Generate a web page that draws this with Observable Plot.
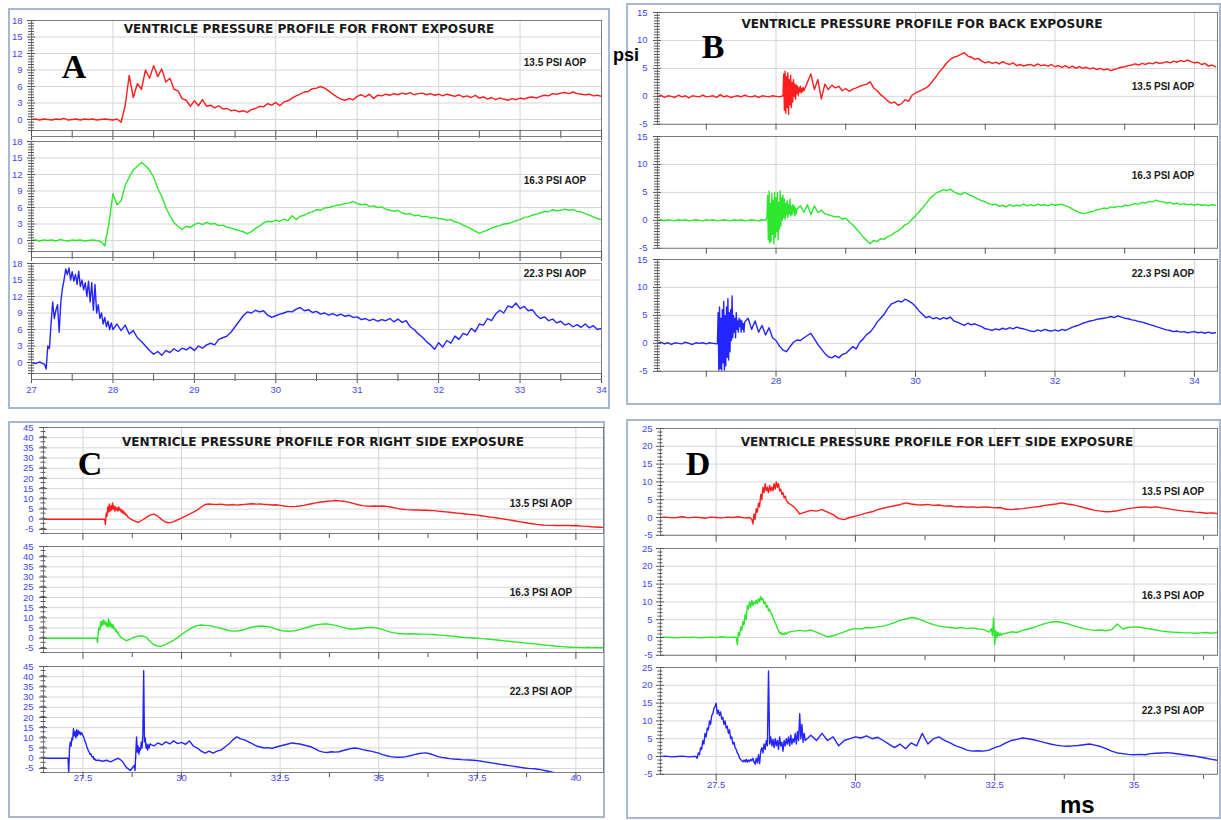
<!DOCTYPE html>
<html>
<head>
<meta charset="utf-8">
<script src="https://cdn.jsdelivr.net/npm/d3@7"></script>
<script src="https://cdn.jsdelivr.net/npm/@observablehq/plot@0.6"></script>
<style>
  body { margin: 0; background: #fff; }
  #page { position: relative; width: 1221px; height: 820px; overflow: hidden; background: #fff; }
  .box { position: absolute; border: 2px solid #a9b8d2; box-sizing: border-box; background: #fff; }
  .sub { position: absolute; }
  #overlay { position: absolute; left: 0; top: 0; pointer-events: none; }
</style>
</head>
<body>
<div id="page"></div>
<script>
// ---------------------------------------------------------------------------
// Text
// ---------------------------------------------------------------------------
const titles = [
  "VENTRICLE PRESSURE PROFILE FOR FRONT EXPOSURE",
  "VENTRICLE PRESSURE PROFILE FOR BACK EXPOSURE",
  "VENTRICLE PRESSURE PROFILE FOR RIGHT SIDE EXPOSURE",
  "VENTRICLE PRESSURE PROFILE FOR LEFT SIDE EXPOSURE"
];
const letters = ["A", "B", "C", "D"];
const aopLabels = ["13.5 PSI AOP", "16.3 PSI AOP", "22.3 PSI AOP"];
const unitY = "psi";
const unitX = "ms";

// ---------------------------------------------------------------------------
// Tick values
// ---------------------------------------------------------------------------
const frontTicksY = [0, 3, 6, 9, 12, 15, 18];
const frontTicksX = [27, 28, 29, 30, 31, 32, 33, 34];
const backTicksY = [-5, 0, 5, 10, 15];
const backTicksX = [28, 30, 32, 34];
const backTicksXAll = [27, 28, 29, 30, 31, 32, 33, 34];
const rightTicksY = [-5, 0, 5, 10, 15, 20, 25, 30, 35, 40, 45];
const rightTicksX = [27.5, 30, 32.5, 35, 37.5, 40];
const leftTicksY = [-5, 0, 5, 10, 15, 20, 25];
const leftTicksX = [27.5, 30, 32.5, 35];

// ---------------------------------------------------------------------------
// Pressure traces (psi). Each trace is a list of [start ms, step ms, samples].
// ---------------------------------------------------------------------------
const frontRed = [
  [27.00, 0.05, [0, 0.1, -0.1, 0.1, 0, -0.1, 0.1, 0, 0.2, -0.1, 0, 0.1, -0.1, 0.1, 0, 0.1, -0.1, 0, 0.1, 0, -0.1, 0.1,
    -0.5, 2.5, 8, 4, 6.5, 5.5, 9, 7.5, 9.8, 7.8, 9.2, 6.8, 7.5, 5.5, 5.2, 3.8, 3.5, 2.4,
    3.4, 2.5, 3.6, 2.4, 2.6, 2.1, 2.5, 1.9, 2.0, 1.6, 1.7, 1.4, 1.6, 1.3, 1.8, 2.0, 2.4, 2.3, 2.9, 2.6,
    3.1, 2.5, 3.2, 3.4, 3.9, 4.3, 4.6, 5.0, 5.1, 5.6, 5.7, 6.0, 5.7, 5.2, 4.6, 4.1, 3.7, 3.5, 3.8, 3.6,
    4.2, 4.5, 4.1, 4.6, 3.8, 4.4, 4.3, 4.6, 4.4, 4.7, 4.5, 4.8, 4.6, 4.9, 4.5, 4.7, 4.8, 4.5, 4.7, 4.4,
    4.6, 4.3, 4.6, 4.4, 4.2, 4.5, 4.1, 4.3, 4.0, 4.4, 3.9, 4.1, 3.7, 4.0, 3.6, 3.9, 3.7, 3.5, 3.8, 3.6,
    3.9, 3.7, 4.0, 4.1, 3.9, 4.2, 4.4, 4.3, 4.7, 4.6, 4.8, 4.9, 4.7, 5.0, 4.7, 4.6, 4.5, 4.6, 4.3, 4.4, 4.2]]
];
const frontGreen = [
  [27.00, 0.05, [0, 0.1, -0.1, 0.1, 0, 0.1, -0.1, 0.2, 0, -0.1, 0.1, 0, 0.1, -0.1, 0, 0.1, 0,
    -0.2, -1.0, 3.0, 8.5, 6.5, 7.2, 10.0, 11.5, 12.8, 13.5, 14.2, 13.6, 12.8, 11.5, 9.5, 8.0, 6.0, 4.5, 3.2, 2.6, 2.0, 2.6, 2.4,
    2.9, 3.2, 2.9, 3.3, 3.0, 3.1, 2.7, 2.8, 2.4, 2.3, 2.0, 1.8, 1.6, 1.2, 1.6, 2.2, 2.6, 3.2, 3.5, 3.4,
    3.7, 3.5, 3.9, 3.6, 4.5, 3.8, 4.4, 4.6, 5.0, 5.2, 5.6, 5.5, 5.9, 6.0, 6.2, 6.4, 6.5, 6.7, 6.8, 7.1,
    6.7, 6.5, 6.6, 6.2, 6.3, 6.0, 6.1, 5.7, 5.5, 5.3, 5.5, 5.0, 4.8, 4.9, 4.5, 4.6, 4.3, 4.4, 4.1, 4.2,
    4.0, 3.9, 3.7, 3.8, 3.4, 3.2, 2.8, 2.5, 2.1, 1.7, 1.3, 1.6, 1.9, 2.3, 2.5, 2.7, 3.0, 3.1, 3.3, 3.6,
    3.8, 4.2, 4.3, 4.6, 4.8, 5.0, 5.3, 5.2, 5.6, 5.4, 5.5, 5.7, 5.5, 5.6, 5.3, 5.2, 4.9, 4.6, 4.3, 4.0, 3.8]]
];
const frontBlue = [
  [27.00, 0.05, [0, -0.2, 0.1, -0.3]],
  [27.16, 0.02, [-0.3, -1.2, 3.0, 2.5, 7.0, 11.0, 8.0, 9.5, 10.5, 5.5, 11.0, 13.5, 15.0, 17.0, 16.0, 17.2, 15.0, 16.5,
    14.8, 16.0, 14.2, 16.6, 13.8, 15.0, 13.2, 14.5, 12.0, 14.8, 11.0, 14.5, 9.5, 14.2, 9.0, 10.5, 8.0, 9.0, 7.0, 8.2,
    6.5, 7.5, 6.0, 7.2]],
  [28.00, 0.05, [6.0, 7.0, 5.8, 6.8, 5.2, 5.8, 4.5, 3.8, 3.0, 2.2, 1.5, 2.0, 1.3, 2.2, 1.8, 2.5, 2.0, 2.6, 2.3, 2.8,
    2.2, 3.0, 2.6, 3.2, 3.5, 3.2, 4.2, 4.5, 4.8, 5.5, 6.5, 7.5, 8.5, 9.2, 9.0, 9.5, 9.2, 9.4, 8.6, 8.2,
    8.5, 8.8, 9.0, 9.3, 9.2, 9.7, 10.0, 9.4, 9.6, 9.1, 9.3, 8.8, 9.0, 8.6, 8.9, 8.5, 8.8, 8.4, 8.6, 8.2,
    8.3, 7.8, 8.0, 7.6, 7.9, 7.5, 7.8, 7.6, 8.0, 7.4, 7.9, 7.3, 7.6, 6.5, 6.0, 5.2, 4.6, 3.8, 3.2, 2.4,
    3.6, 2.8, 4.0, 3.5, 4.8, 4.2, 5.3, 5.0, 6.2, 5.6, 7.0, 6.8, 8.0, 7.6, 8.8, 9.5, 9.0, 10.3, 10.0, 10.8,
    9.8, 10.2, 9.4, 9.6, 8.6, 8.0, 8.3, 7.6, 7.9, 7.2, 7.5, 6.8, 7.1, 6.5, 6.9, 6.4, 7.0, 6.3, 6.7, 6.0,
    6.2]]
];

const backRed = [
  [26.30, 0.05, [-0.1, 0.2, -0.2, 0.1, 0, -0.2, 0.2, -0.1, 0.1, -0.3, 0.1, 0, -0.1, 0.2, -0.1, 0, 0.1, -0.2, 0.3,
    -0.1, 0.1, -0.2, 0, 0.1, -0.1, 0.2, 0, -0.1, 0.1, -0.2, 0.1, 0, -0.1, 0.1, 0, -0.1, 0.1]],
  [28.11, 0.01, [4.0, -2.5, 4.5, -3.0, 3.5, -2.0, 4.2, -3.2, 3.0, -1.5, 3.8, -2.0, 2.5, -1.0, 3.0, 0, 2.2, -0.5,
    2.0, 0.5, 1.8, 0.2, 1.5, 0.8, 1.8, 0.6, 1.4, 0.9, 1.6, 1.0]],
  [28.45, 0.05, [2.5, 4.0, 1.2, 3.0, -0.5, 2.2, 1.2, 2.0, 1.5, 1.8, 1.0,
    1.4, 0.9, 1.3, 1.5, 1.8, 2.0, 2.2, 2.6, 1.5, 1.0, 0.3, -0.2, -0.8, -1.2, -1.0, -1.6, -1.3, -0.6, -0.9, 0.2,
    0.6, 0.9, 1.2, 1.5, 2.0, 2.8, 3.6, 4.5, 5.2, 6.0, 6.6, 7.0, 7.2, 7.5, 7.8, 7.2, 7.0, 6.6, 6.8, 6.3,
    6.0, 6.2, 5.9, 6.1, 5.8, 6.2, 5.9, 5.7, 6.0, 5.5, 5.7, 5.4, 5.6, 5.7, 5.4, 5.8, 5.5, 5.6, 5.4, 5.7,
    5.3, 5.5, 5.2, 5.5, 5.1, 5.4, 5.0, 5.3, 5.0, 5.2, 4.9, 5.1, 4.8, 5.0, 4.7, 4.9, 4.6, 4.8, 5.0, 5.2,
    5.3, 5.5, 5.6, 5.8, 5.6, 5.9, 5.7, 6.0, 5.8, 6.1, 5.9, 6.0, 6.2, 6.0, 6.3, 6.1, 6.4, 6.2, 6.5, 6.2,
    6.0, 6.1, 5.7, 5.9, 5.4, 5.6, 5.3]]
];
const backGreen = [
  [26.30, 0.05, [0, 0.1, -0.1, 0.1, 0, -0.1, 0.1, 0, 0.1, -0.1, 0, 0.1, 0, -0.1, 0.1, 0, 0.1, -0.1, 0, 0.1, 0,
    -0.1, 0.1, 0, 0.1, -0.1, 0, 0.1, 0, -0.1, 0.1, 0]],
  [27.87, 0.01, [0.5, 4.5, -3.5, 5.2, -4.0, 3.0, -3.8, 4.8, -2.5, 3.5, -4.2, 5.0, -3.0, 4.0, -2.0, 5.0, -3.5, 3.2,
    -1.5, 5.3, -1.0, 4.0, 0, 4.5, 0.5, 3.8, 0.2, 3.0, 1.0, 3.5, 0.5, 2.8, 1.2, 3.8, 0.8, 2.5, 1.0, 2.8, 1.5, 2.6,
    0.8, 2.2, 1.2, 2.0]],
  [28.35, 0.05, [2.6, 1.4, 2.8, 1.0, 2.6, 1.4, 1.8, 1.2, 1.0, 0.8, 0.6, 0.7, 0.2,
    0.4, -0.3, -0.8, -1.5, -2.2, -3.0, -3.6, -4.2, -3.6, -3.8, -3.3, -3.4, -2.9, -2.7, -2.2, -1.9, -1.4, -0.8, -0.5, 0.2,
    0.8, 1.5, 2.2, 3.0, 3.8, 4.4, 4.9, 5.2, 5.5, 5.3, 5.6, 5.1, 4.8, 4.6, 5.0, 4.7, 4.4, 4.1, 3.8, 3.5,
    3.3, 3.0, 2.8, 2.9, 2.5, 2.7, 2.4, 2.8, 2.5, 2.7, 2.6, 2.9, 2.6, 2.8, 2.6, 2.9, 2.7, 2.8, 2.6, 2.9,
    2.7, 2.8, 2.9, 2.6, 2.4, 2.0, 1.7, 1.4, 1.2, 1.3, 1.5, 1.6, 1.9, 2.0, 2.2, 2.1, 2.4, 2.3, 2.5, 2.4,
    2.7, 2.6, 2.8, 3.0, 2.9, 3.2, 3.1, 3.4, 3.3, 3.6, 3.4, 3.3, 3.1, 3.2, 2.9, 3.1, 2.8, 3.0, 2.8, 2.9,
    2.7, 2.9, 2.7, 2.8, 2.6, 2.8, 2.7]]
];
const backBlue = [
  [26.30, 0.05, [0, 0.2, -0.1, 0.1, -0.2, 0.1, 0, -0.1, 0.2, 0, -0.2, 0.1, 0, 0.1, -0.1, 0.1, 0, -0.1]],
  [27.16, 0.01, [0, 5.5, -5, 6.5, -4.5, 4.5, -5, 6.0, -3.5, 7.5, -5, 5.0, -4.0, 6.5, -2.5, 8.0, -3.0, 5.5, -1.5, 6.0,
    0.5, 8.5, 1.0, 5.0, 2.0, 4.5, 1.0, 5.5, 2.5, 4.0, 2.0, 4.5, 3.0, 4.2, 2.0, 4.0, 2.5, 3.5, 2.0, 3.8]],
  [27.60, 0.05, [4.5, 2.5, 4.0, 2.0, 3.2, 1.5, 2.8, 1.0,
    0.5, -0.5, -1.2, -1.5, -0.6, 0.2, 0.6, 0.5, 1.0, 1.4, 1.8, 0.8, -0.2, -1.0, -1.8, -2.4, -2.6, -2.2, -2.6, -2.0,
    -1.8, -1.2, -0.6, -1.0, 0.2, 0.8, 1.6, 2.0, 2.8, 3.8, 4.5, 5.2, 6.2, 7.0, 7.3, 7.6, 7.4, 7.9, 7.6, 7.2,
    6.6, 5.8, 5.2, 4.6, 4.8, 4.4, 4.6, 4.3, 4.6, 4.4, 4.7, 4.0, 3.8, 3.5, 3.2, 3.6, 3.3, 3.5, 3.2, 3.0,
    2.6, 2.5, 2.3, 2.6, 2.4, 2.7, 2.5, 2.8, 2.6, 2.9, 2.7, 2.6, 2.4, 2.2, 2.1, 2.4, 2.2, 2.5, 2.3, 2.2,
    2.4, 2.2, 2.5, 2.3, 2.6, 2.9, 3.1, 3.3, 3.6, 3.8, 4.0, 4.1, 4.3, 4.4, 4.5, 4.6, 4.8, 4.6, 4.9, 4.7,
    4.5, 4.4, 4.2, 4.1, 3.9, 3.8, 3.6, 3.4, 3.2, 3.0, 2.8, 2.6, 2.4, 2.3, 2.1, 2.2, 2.0, 2.1, 1.9, 2.0,
    2.1, 1.9, 2.0, 1.8, 2.0, 1.8, 1.9]]
];

const rightRed = [
  [26.5, 0.1, [0, 0, 0, 0, 0, 0, 0, 0, 0, 0, 0, 0, 0, 0, 0, 0]],
  [28.05, 0.02, [0, -2.5, 3.0, 1.5, 6.0, 3.5, 7.5, 4.0, 6.5, 4.5, 8.0, 5.0, 6.5, 4.0, 6.0, 4.5, 5.5, 4.0, 6.0, 4.5,
    5.0, 3.5, 4.5, 3.0, 4.0, 2.5, 3.0, 2.0, 2.2, 1.2, 1.0]],
  [28.7, 0.1, [0.2, -0.8, -1.5,
    -0.5, 0.8, 2.0, 2.5, 1.5, -0.2, -1.5, -1.8, -1.2, -0.3,
    0.5, 1.5, 2.5, 3.5, 4.5, 6.0, 7.2, 7.5, 7.3, 7.2,
    7.4, 7.1, 7.0, 7.2, 6.9, 7.1, 7.3, 7.5, 7.6, 7.4,
    7.5, 7.3, 7.2, 7.0, 7.1, 6.8, 6.5, 6.3, 6.2, 6.3,
    6.5, 6.8, 7.2, 7.6, 8.0, 8.3, 8.6, 8.8, 9.0, 9.2,
    9.0, 8.8, 8.5, 8.0, 7.5, 7.0, 6.7, 6.5, 6.4, 6.5,
    6.4, 6.5, 6.3, 6.0, 5.6, 5.2, 4.9, 4.7, 4.6, 4.5,
    4.5, 4.4, 4.4, 4.3, 4.2, 4.0, 3.8, 3.6, 3.4, 3.2,
    3.0, 2.8, 2.6, 2.4, 2.2, 2.0, 1.7, 1.4, 1.1, 0.9,
    0.6, 0.3, 0, -0.3, -0.6, -1.0, -1.3, -1.6, -2.0, -2.2,
    -2.5, -2.7, -2.9, -3.0, -3.0, -3.1, -3.0, -3.1, -3.0, -3.2,
    -3.1, -3.3, -3.4, -3.5, -3.7, -3.8, -3.9, -4.0]]
];
const rightGreen = [
  [26.5, 0.1, [0, 0, 0, 0, 0, 0, 0, 0, 0, 0, 0, 0, 0, 0]],
  [27.85, 0.02, [0, -2.0, 3.0, 5.5, 4.0, 8.0, 6.0, 8.5, 6.5, 9.0, 7.0, 8.0, 6.0, 7.5, 5.5, 9.5, 6.0, 8.0, 5.5, 7.0,
    5.0, 6.5, 4.5, 5.0, 3.5, 4.0, 2.5, 3.0, 1.5, 1.5, 0.5]],
  [28.5, 0.1, [0, -1.2, -0.5, 0.5, 1.0,
    1.2, 0.5, -1.5, -3.2, -4.0, -3.8, -3.0, -2.0, -1.0, 0.3,
    1.8, 3.2, 4.5, 5.5, 6.2, 6.5, 6.3, 6.2, 5.8, 5.3,
    4.8, 4.3, 3.8, 3.5, 3.5, 3.8, 4.3, 5.0, 5.5, 5.8,
    6.0, 5.9, 5.7, 5.2, 4.5, 3.9, 3.5, 3.4, 3.5, 3.8,
    4.2, 4.8, 5.4, 6.0, 6.5, 6.8, 7.0, 7.0, 6.7, 6.3,
    5.8, 5.3, 4.8, 4.5, 4.5, 4.8, 5.0, 5.2, 5.3, 5.2,
    4.8, 4.2, 3.6, 3.0, 2.6, 2.3, 2.2, 2.1, 2.2, 2.1,
    2.1, 2.0, 2.0, 1.9, 1.8, 1.6, 1.5, 1.3, 1.1, 0.9,
    0.7, 0.5, 0.4, 0.2, 0.1, 0, -0.2, -0.3, -0.5, -0.7,
    -0.9, -1.1, -1.3, -1.5, -1.7, -1.9, -2.1, -2.3, -2.5, -2.7,
    -2.9, -3.1, -3.3, -3.5, -3.7, -3.9, -4.0, -4.2, -4.3, -4.4,
    -4.5, -4.5, -4.6, -4.4, -4.6, -4.5, -4.7, -4.5]]
];
const rightBlue = [
  [26.5, 0.1, [0, 0, 0, 0, 0, 0, 0]],
  [27.12, 0.02, [0, -7, 5, 8, 6, 10, 9, 14.5, 11, 13, 10, 14, 11, 13.5, 12, 13, 11.5, 12.5, 12, 11, 10.5, 9, 8, 7,
    5.5, 4.5, 3.5, 3, 2, 2.2, 1, 0.5, 0.8, -0.5, -0.2, -1.0]],
  [27.9, 0.1, [-1.0, -1.5, -1.0, -1.8, -0.8, 0, -1.5, -4.5, -6.0, -3.5]],
  [28.82, 0.02, [-6, 2, 10.5, 3, 6, 2, 5, 4, 8, 5, 12, 43, 8, 10, 5, 7, 4, 6.5, 5, 7]],
  [29.3, 0.1, [6.0, 7.5, 6.5, 8.0, 7.0, 8.5, 7.2,
    7.8, 6.8, 8.5, 6.0, 5.0, 3.5, 2.5, 3.5, 2.5, 3.5,
    4.0, 5.5, 7.0, 9.0, 10.5, 9.5, 9.0, 8.0, 7.0, 6.0,
    5.5, 5.0, 5.2, 4.8, 5.5, 6.0, 6.5, 7.0, 7.5, 7.2,
    7.0, 6.5, 6.0, 5.5, 4.5, 3.5, 3.0, 2.8, 3.2, 3.0,
    3.2, 3.8, 4.3, 4.8, 5.0, 4.7, 4.2, 3.8, 3.5, 3.0,
    2.5, 1.8, 1.2, 0.8, 0.6, 0.5, 0.6, 0.8, 1.2, 1.8,
    2.2, 2.5, 2.6, 2.2, 1.5, 0.8, 0.4, 0.1, -0.2, -0.4,
    -0.5, -0.7, -0.8, -0.9, -1.0, -1.2, -1.5, -1.8, -2.1, -2.4,
    -2.7, -3.0, -3.3, -3.6, -3.9, -4.2, -4.5, -4.8, -5.0, -5.1,
    -5.3, -5.6, -6.0, -6.4, -6.8, -7.2, -7.6]]
];

const leftRed = [
  [26.5, 0.1, [0, 0.1, -0.1, 0, 0.2, -0.1, 0.1, 0, -0.2, 0.1, 0, -0.1, 0.1, 0, 0.2, -0.1, 0]],
  [28.14, 0.02, [-0.5, -1.8, 1.0, -0.5, 2.5, 1.5, 4.0, 3.0, 6.5, 5.0, 8.5, 7.0, 9.5, 7.5, 8.5, 7.0, 9.0, 7.5, 8.5,
    7.5, 9.5, 8.0, 10.0, 8.5, 9.5, 7.5, 8.0, 6.5, 7.0, 5.5, 6.0, 4.8]],
  [28.8, 0.1, [4.0, 3.0,
    1.0, 1.5, 2.0, 1.8, 2.2, 1.5, 0.8, -0.3, -0.6, 0,
    0.4, 0.8, 1.3, 1.6, 2.2, 2.6, 3.0, 3.3, 3.6, 4.1,
    3.8, 3.6, 3.5, 3.7, 3.4, 3.5, 3.2, 3.3, 3.0, 3.1,
    2.9, 3.0, 2.8, 3.0, 2.9, 2.7, 2.8, 2.3, 2.2, 2.4,
    2.5, 2.7, 2.9, 3.1, 3.4, 3.6, 3.8, 4.1, 3.8, 3.6,
    3.2, 2.8, 2.4, 2.0, 1.8, 1.6, 1.7, 1.9, 2.2, 2.5,
    2.7, 2.9, 3.0, 2.8, 3.0, 2.7, 2.5, 2.2, 2.0, 1.8,
    1.7, 1.5, 1.4, 1.2, 1.3, 1.1]]
];
const leftGreen = [
  [26.5, 0.1, [0, 0.1, 0, -0.1, 0.1, 0, 0.1, -0.1, 0, 0.1, 0, 0.2, 0, 0.1]],
  [27.86, 0.02, [0, -2.0, 1.5, 0.5, 3.0, 2.0, 4.5, 3.5, 6.5, 5.0, 9.0, 8.0, 10.0, 8.5, 10.5, 9.0, 10.0, 9.5, 10.5,
    9.5, 11.0, 10.0, 11.5, 10.5, 11.0, 9.5, 10.0, 8.5, 9.0, 7.5, 8.0, 7.0, 6.5, 5.5, 5.0, 4.0, 3.5, 2.5, 2.0, 1.2,
    1.5, 0.8, 1.2, 0.8, 1.4, 1.0]],
  [28.8, 0.1, [1.5, 1.8,
    2.0, 1.8, 2.1, 1.5, 0.8, 0.2, 0.5, 1.0, 1.6, 2.2,
    2.5, 2.4, 2.8, 2.7, 3.0, 3.2, 3.6, 4.2, 4.8, 5.2,
    5.6, 5.4, 4.8, 4.2, 3.6, 3.2, 3.0, 2.8, 2.6, 2.8,
    2.5, 2.7, 2.4, 2.2, 1.5]],
  [32.44, 0.02, [2.5, 0.5, 5.5, -2.0, 2.0, 0, 1.5, 0.5, 1.2, 0.6, 1.0]],
  [32.7, 0.1, [1.2, 1.6, 1.4,
    2.0, 2.4, 2.8, 3.4, 3.9, 4.3, 4.5, 4.2, 3.9, 3.4,
    2.9, 2.5, 2.2, 2.0, 2.1, 1.9, 2.2, 3.8, 2.4, 2.8,
    3.0, 2.9, 2.6, 2.4, 2.1, 1.8, 1.6, 1.5, 1.4, 1.3,
    1.3, 1.2, 1.3, 1.4, 1.2, 1.5]]
];
const leftBlue = [
  [26.5, 0.1, [0, 0.1, -0.1, 0, 0.1, -0.1, 0]],
  [27.14, 0.02, [0, -0.5, 1.0, 0.5, 2.5, 2.0, 4.5, 3.5, 6.5, 5.5, 8.0, 7.5, 10.0, 9.0, 11.5, 12.0, 13.5, 14.0, 15.0,
    12.0, 13.0, 11.5, 12.5, 10.5, 11.0, 9.0, 10.0, 8.0, 8.5, 6.5, 7.5, 5.0, 5.5, 3.5, 4.0, 2.5, 2.0, 1.0, 0.5,
    -0.5, -0.8, -1.2, -1.5]],
  [28.00, 0.02, [-1.0, -1.5, -0.8, -1.6, -1.0, -1.4, -0.8, -1.2, -0.5, -1.5, -2.2, -0.5, -1.8, 0.5, -2.0, 1.5, 2.5,
    1.0, 3.5, 2.0, 4.5, 3.0, 24.0, 3.5, 5.5, 3.0, 4.8, 2.5, 5.0, 3.0, 4.5, 2.0, 5.5, 3.0, 4.0, 1.5, 4.5, 3.0, 5.0,
    3.5, 5.5, 3.0, 6.0, 3.5, 5.0, 4.0, 6.5, 3.5, 7.0, 4.5, 12.0, 5.0, 9.0, 4.0, 6.5, 4.5]],
  [29.2, 0.1, [6.0, 4.5, 6.5, 4.5, 5.5, 3.0, 4.5, 5.0,
    5.5, 5.2, 5.8, 5.0, 5.4, 4.5, 3.5, 2.5, 3.5, 2.2,
    3.8, 3.0, 6.5, 3.5, 5.0, 5.5, 4.5, 3.8, 3.0, 2.5,
    1.8, 1.5, 1.6, 1.5, 1.8, 2.5, 3.0, 3.8, 4.5, 4.8,
    5.2, 5.0, 4.7, 4.3, 3.9, 3.5, 3.2, 3.0, 2.9, 3.0,
    3.1, 3.3, 3.5, 3.2, 2.8, 2.2, 1.5, 1.0, 0.8, 0.6,
    0.5, 0.6, 0.5, 0.8, 0.9, 1.0, 1.1, 0.9, 0.7, 0.5,
    0.3, 0.1, -0.2, -0.5, -0.8, -1.1]]
];

// ---------------------------------------------------------------------------
// Panel layout (page pixels) and scales
// ---------------------------------------------------------------------------
const panels = [
  {
    box: [8, 8, 602, 401], frameX: [31, 601], tops: [20, 141, 263], frameH: 110,
    xDomain: [27, 34], yDomain: [-2, 18], yTicks: frontTicksY, yMinorStep: 0.5,
    xMajor: frontTicksX, xMinor: d3.range(27.5, 34, 1), xLabels: frontTicksX, xGrid: frontTicksX,
    axisGap: 6, tickLen: 10, minorLen: 6, xLabelPad: 13, yLabelPad: 9,
    traces: [frontRed, frontGreen, frontBlue],
    title: [309, 33], letter: [74, 78], aop: [555, [62, 180, 273]]
  },
  {
    box: [626, 3, 595, 402], frameX: [657, 1218], tops: [12, 136, 259], frameH: 112,
    xDomain: [26.3, 34.33], yDomain: [-5, 15], yTicks: backTicksY, yMinorStep: 0.5,
    xMajor: backTicksXAll, xMinor: [], xLabels: backTicksX, xGrid: backTicksX,
    axisGap: 0, tickLen: 6, minorLen: 6, xLabelPad: 6, yLabelPad: 10,
    traces: [backRed, backGreen, backBlue],
    title: [922, 28], letter: [713, 58], aop: [1163, [86, 175, 273]]
  },
  {
    box: [8, 421, 597, 397], frameX: [43, 603], tops: [427, 546, 666], frameH: 106,
    xDomain: [26.5, 40.7], yDomain: [-7, 45], yTicks: rightTicksY, yMinorStep: 2.5,
    xMajor: rightTicksX, xMinor: [28.75, 31.25, 33.75, 36.25, 38.75], xLabels: rightTicksX, xGrid: rightTicksX,
    axisGap: 0, tickLen: 7, minorLen: 5, xLabelPad: 2, yLabelPad: 10,
    traces: [rightRed, rightGreen, rightBlue],
    title: [323, 446], letter: [90, 475], aop: [541, [503, 592, 691]]
  },
  {
    box: [626, 419, 595, 400], frameX: [660, 1218], tops: [428, 548, 667], frameH: 107,
    xDomain: [26.5, 36.5], yDomain: [-5, 25], yTicks: leftTicksY, yMinorStep: 1,
    xMajor: leftTicksX, xMinor: [28.75, 31.25, 33.75, 36.25], xLabels: leftTicksX, xGrid: leftTicksX,
    axisGap: 0, tickLen: 7, minorLen: 5, xLabelPad: 7, yLabelPad: 8,
    traces: [leftRed, leftGreen, leftBlue],
    title: [937, 446], letter: [698, 475], aop: [1173, [491, 595, 710]]
  }
];

const traceColors = ["#ff1c1c", "#2fe62f", "#2424ff"];
const gridColor = "#d6d6d6";
const frameColor = "#7d7d7d";
const tickColor = "#555";
const labelColor = "#4646f2";
const plainNumber = (d) => String(d);

// Flatten [start, step, samples] segments into {t, p} rows.
function expand(segments) {
  const rows = [];
  for (const [t0, dt, vals] of segments) {
    vals.forEach((p, i) => rows.push({t: +(t0 + i * dt).toFixed(3), p}));
  }
  return rows;
}

const page = d3.select("#page");

// Panel outlines
for (const pn of panels) {
  const [l, t, w, h] = pn.box;
  page.append("div").attr("class", "box")
    .style("left", l + "px").style("top", t + "px")
    .style("width", w + "px").style("height", h + "px");
}

// One Plot per trace strip
const mL = 36, mR = 4, mT = 4, mB = 26;
panels.forEach((pn) => {
  const fw = pn.frameX[1] - pn.frameX[0];
  const yMinor = d3.range(pn.yDomain[0], pn.yDomain[1] + 1e-9, pn.yMinorStep)
    .filter((v) => !pn.yTicks.includes(v));
  pn.traces.forEach((trace, k) => {
    const last = k === 2;
    const marks = [
      Plot.gridY(pn.yTicks, {stroke: gridColor, strokeOpacity: 1}),
      Plot.gridX(pn.xGrid, {stroke: gridColor, strokeOpacity: 1}),
      Plot.line(expand(trace), {x: "t", y: "p", stroke: traceColors[k], strokeWidth: 1.4, strokeLinejoin: "round", clip: true}),
      Plot.frame({stroke: frameColor}),
      Plot.axisY(yMinor, {tickSize: pn.minorLen, dx: pn.minorLen / 2, fill: "none", stroke: tickColor}),
      Plot.axisY(pn.yTicks, {tickSize: 8, dx: 4, fill: "none", stroke: tickColor}),
      Plot.axisY(pn.yTicks, {tickSize: 0, tickPadding: pn.yLabelPad, tickFormat: plainNumber, fill: labelColor, stroke: "none", fontSize: 9.5}),
      Plot.axisX(pn.xMajor, {tickSize: pn.tickLen, fill: "none", stroke: tickColor})
    ];
    if (pn.xMinor.length) {
      marks.push(Plot.axisX(pn.xMinor, {tickSize: pn.tickLen - 3, dy: 1, fill: "none", stroke: tickColor}));
    }
    if (pn.axisGap) {
      marks.push(Plot.ruleY([pn.yDomain[0]], {dy: pn.axisGap, stroke: frameColor}));
    }
    if (last) {
      marks.push(Plot.axisX(pn.xLabels, {tickSize: 0, tickPadding: pn.xLabelPad, tickFormat: plainNumber, fill: labelColor, stroke: "none", fontSize: 9.5}));
    }
    const svg = Plot.plot({
      width: fw + mL + mR,
      height: pn.frameH + mT + mB,
      marginLeft: mL, marginRight: mR, marginTop: mT, marginBottom: mB,
      x: {domain: pn.xDomain, label: null},
      y: {domain: pn.yDomain, label: null},
      style: {background: "transparent", fontFamily: "Liberation Sans, Arial, sans-serif", fontSize: "9.5px", overflow: "visible"},
      marks
    });
    const holder = page.append("div").attr("class", "sub")
      .style("left", (pn.frameX[0] - mL) + "px")
      .style("top", (pn.tops[k] - mT) + "px");
    holder.node().appendChild(svg);
  });
});

// Titles, panel letters, strip labels and unit labels
const ov = page.append("svg").attr("id", "overlay").attr("width", 1221).attr("height", 820);
panels.forEach((pn, i) => {
  ov.append("text").attr("x", pn.title[0]).attr("y", pn.title[1])
    .attr("text-anchor", "middle").attr("font-family", "DejaVu Sans, Verdana, sans-serif")
    .attr("font-weight", "bold").attr("font-size", 12.1).attr("fill", "#1a1a1a").text(titles[i]);
  ov.append("text").attr("x", pn.letter[0]).attr("y", pn.letter[1])
    .attr("text-anchor", "middle").attr("font-family", "Liberation Serif, Times New Roman, serif")
    .attr("font-weight", "bold").attr("font-size", 34).attr("fill", "#000").text(letters[i]);
  pn.aop[1].forEach((cy, k) => {
    ov.append("text").attr("x", pn.aop[0]).attr("y", cy).attr("dy", "0.35em")
      .attr("text-anchor", "middle").attr("font-family", "Liberation Sans, Arial, sans-serif")
      .attr("font-weight", "bold").attr("font-size", 10).attr("fill", "#1a1a1a").text(aopLabels[k]);
  });
});
ov.append("text").attr("x", 613).attr("y", 61).attr("font-family", "Liberation Sans, Arial, sans-serif")
  .attr("font-weight", "bold").attr("font-size", 18).attr("fill", "#000").text(unitY);
ov.append("text").attr("x", 1060).attr("y", 813).attr("font-family", "Liberation Sans, Arial, sans-serif")
  .attr("font-weight", "bold").attr("font-size", 24).attr("fill", "#000").text(unitX);
</script>
</body>
</html>
